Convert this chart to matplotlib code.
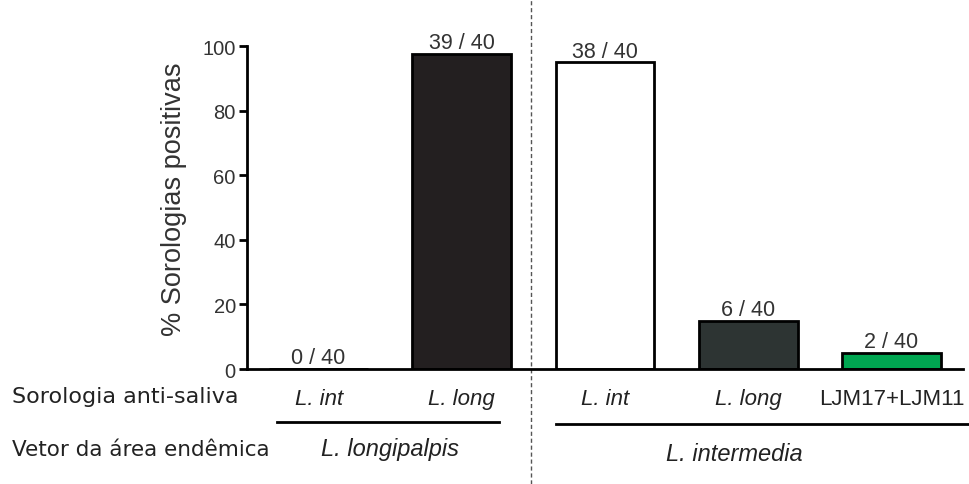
import matplotlib.pyplot as plt
import matplotlib.transforms as mtransforms

categories = ['L. int', 'L. long', 'L. int', 'L. long', 'LJM17+LJM11']
italic_cat = [True, True, True, True, False]
positives = [0, 39, 38, 6, 2]
totals = [40, 40, 40, 40, 40]
percent = [100.0 * p / t for p, t in zip(positives, totals)]
bar_colors = ['white', '#231f20', 'white', '#2d3433', '#00a651']
groups = ['L. longipalpis', 'L. intermedia']

plt.rcParams['font.family'] = ['Liberation Sans', 'DejaVu Sans']

fig = plt.figure(figsize=(9.7, 4.85), dpi=100)
ax = fig.add_axes([0.2546, 0.237, 0.7382, 0.666])

x = list(range(len(categories)))
ax.bar(x, percent, width=0.69, color=bar_colors, edgecolor='black', linewidth=2)

for xi, p, t, v in zip(x, positives, totals, percent):
    ax.text(xi, v + 0.2, f'{p} / {t}', ha='center', va='bottom', fontsize=15.5, color='#333333')

ax.set_xlim(-0.5, 4.5)
ax.set_ylim(0, 100)
ax.set_yticks([0, 20, 40, 60, 80, 100])
ax.set_xticks([])
ax.tick_params(axis='y', length=6, width=2, labelsize=14.5, labelcolor='#333333', pad=2)
for s in ['top', 'right']:
    ax.spines[s].set_visible(False)
for s in ['left', 'bottom']:
    ax.spines[s].set_linewidth(2)
ax.set_ylabel('% Sorologias positivas', fontsize=19.5, color='#333333')
ax.yaxis.set_label_coords(-0.084, 0.53)

trans = mtransforms.blended_transform_factory(ax.transData, fig.transFigure)

# row labels
fig.text(0.012, 1 - 397 / 485, 'Sorologia anti-saliva', fontsize=16, family='DejaVu Sans', color='#222222', va='center')
fig.text(0.012, 1 - 450 / 485, 'Vetor da área endêmica', fontsize=15.5, family='DejaVu Sans', color='#222222', va='center')

# category labels
for xi, c, it in zip(x, categories, italic_cat):
    ax.text(xi, 1 - 400 / 485, c, transform=trans, ha='center', va='center', fontsize=16,
            style='italic' if it else 'normal', color='#222222')

# group lines and labels
ax.plot([-0.29, 1.26], [1 - 423 / 485] * 2, color='black', lw=2, transform=trans, clip_on=False)
ax.plot([1.66, 4.6], [1 - 425 / 485] * 2, color='black', lw=2, transform=trans, clip_on=False)
ax.text(0.5, 1 - 450 / 485, groups[0], transform=trans, ha='center', va='center', fontsize=17,
        style='italic', color='#222222')
ax.text(2.9, 1 - 455 / 485, groups[1], transform=trans, ha='center', va='center', fontsize=17,
        style='italic', color='#222222')

# dashed divider
ax.plot([1.48, 1.48], [0, 1], color='#555555', lw=1, ls=(0, (3, 2)), transform=trans, clip_on=False)

fig.savefig('out.png', dpi=100)
